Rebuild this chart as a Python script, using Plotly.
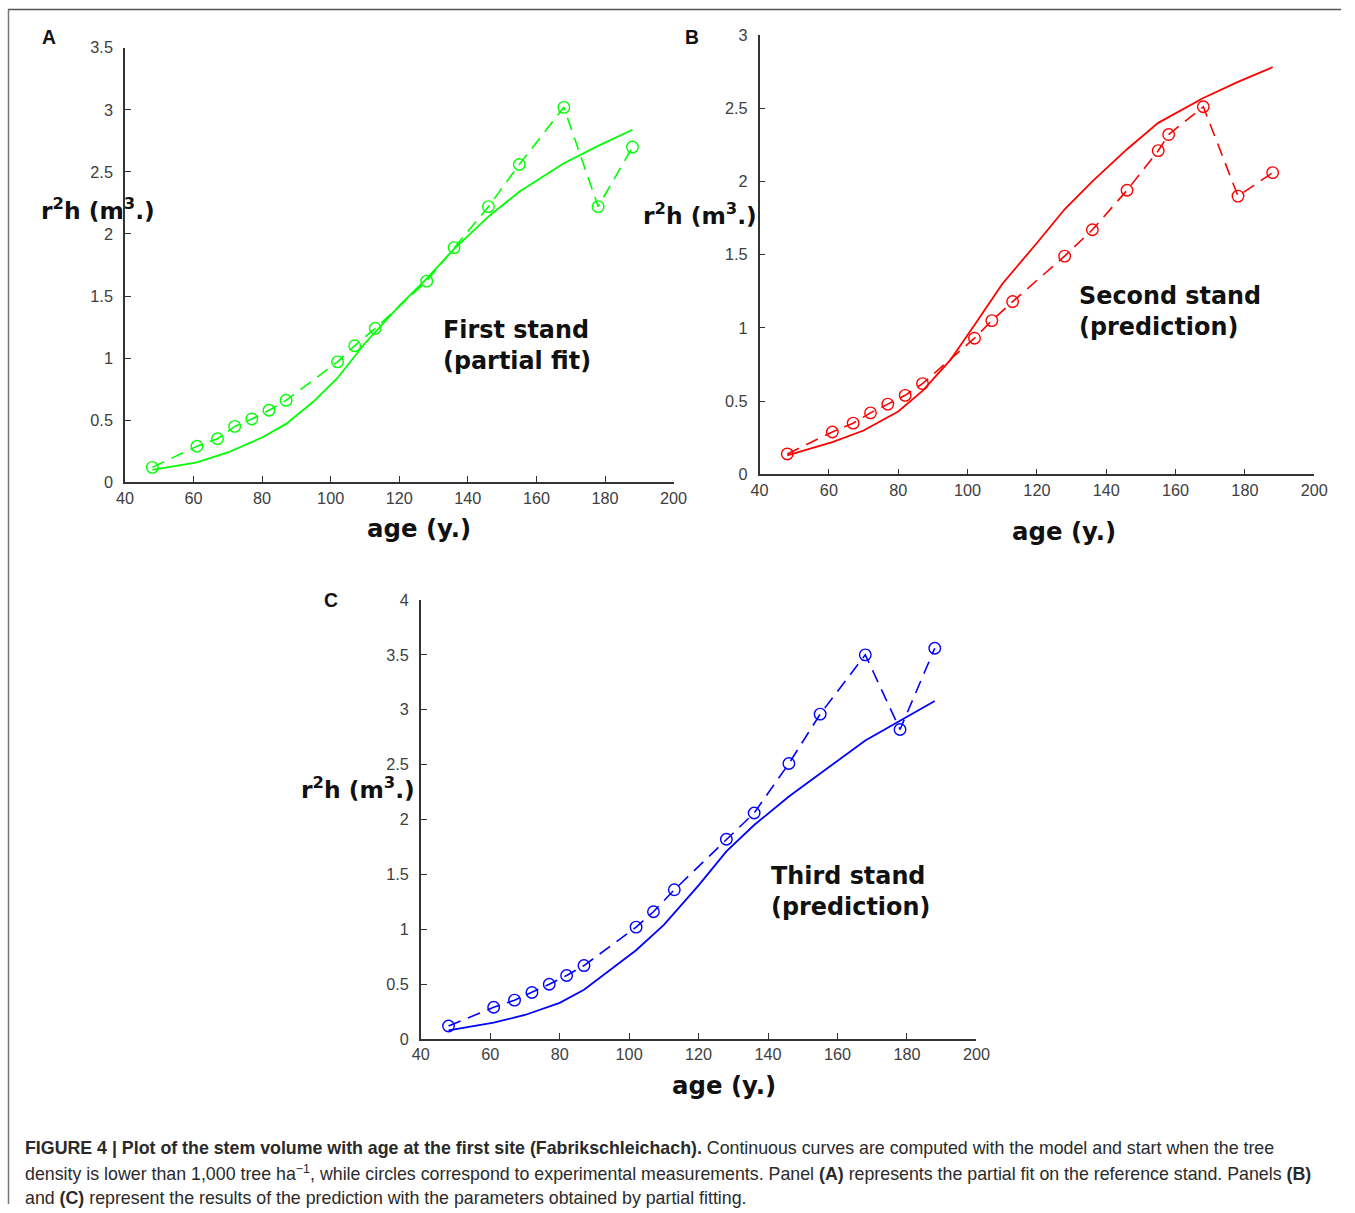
import plotly.graph_objects as go

W, H = 1355, 1213
# observed capture transform: shown = S * page + OFF  -> pre-compensate
S, OFF = 0.9836, 8.0

# ---------------- data ----------------
age_meas_A = [48, 61, 67, 72, 77, 82, 87, 102, 107, 113, 128, 136, 146, 155, 168, 178, 188]
vol_meas_A = [0.12, 0.29, 0.35, 0.45, 0.51, 0.58, 0.66, 0.97, 1.10, 1.24, 1.62, 1.89, 2.22, 2.56, 3.02, 2.22, 2.70]

age_meas_B = [48, 61, 67, 72, 77, 82, 87, 102, 107, 113, 128, 136, 146, 155, 158, 168, 178, 188]
vol_meas_B = [0.14, 0.29, 0.35, 0.42, 0.48, 0.54, 0.62, 0.93, 1.05, 1.18, 1.49, 1.67, 1.94, 2.21, 2.32, 2.51, 1.90, 2.06]

age_meas_C = [48, 61, 67, 72, 77, 82, 87, 102, 107, 113, 128, 136, 146, 155, 168, 178, 188]
vol_meas_C = [0.12, 0.29, 0.355, 0.425, 0.50, 0.58, 0.67, 1.02, 1.16, 1.36, 1.82, 2.06, 2.51, 2.96, 3.50, 2.82, 3.56]

age_model = [48, 55, 61, 70, 80, 87, 95, 102, 110, 120, 128, 136, 146, 155, 168, 178, 188]
vol_model_A = [0.10, 0.13, 0.16, 0.24, 0.36, 0.47, 0.65, 0.84, 1.12, 1.42, 1.64, 1.88, 2.14, 2.34, 2.57, 2.71, 2.84]
vol_model_B = [0.13, 0.18, 0.22, 0.30, 0.43, 0.57, 0.78, 1.02, 1.30, 1.58, 1.81, 2.00, 2.22, 2.40, 2.57, 2.68, 2.78]
vol_model_C = [0.08, 0.12, 0.15, 0.22, 0.33, 0.45, 0.64, 0.81, 1.04, 1.40, 1.71, 1.95, 2.21, 2.42, 2.72, 2.90, 3.08]

x_ticks = [40, 60, 80, 100, 120, 140, 160, 180, 200]
y_ticks_A = [0, 0.5, 1, 1.5, 2, 2.5, 3, 3.5]
y_ticks_B = [0, 0.5, 1, 1.5, 2, 2.5, 3]
y_ticks_C = [0, 0.5, 1, 1.5, 2, 2.5, 3, 3.5, 4]
y_max = [3.5, 3, 4]

panel_titles = ["First stand<br>(partial fit)", "Second stand<br>(prediction)", "Third stand<br>(prediction)"]
panel_letters = ["A", "B", "C"]
colors = ["#00ff00", "#ff0000", "#0000ff"]

# ---------------- layout helpers (target pixel -> paper) ----------------
def px(x):
    return ((x - OFF) / S) / W

def py(y):
    return 1 - ((y - OFF) / S) / H

def fs(size):
    return size / S

# axis boxes in target pixels: (x_left, x_right, y_top, y_bottom)
boxes = [(124, 673, 46.7, 480.5), (759, 1314, 33.9, 472.7), (420, 976, 598, 1036.5)]

fig = go.Figure()

meas = [(age_meas_A, vol_meas_A), (age_meas_B, vol_meas_B), (age_meas_C, vol_meas_C)]
models = [vol_model_A, vol_model_B, vol_model_C]
yticks = [y_ticks_A, y_ticks_B, y_ticks_C]

def fmt(v):
    return str(int(v)) if float(v).is_integer() else str(v)

for i in range(3):
    xa = "x" if i == 0 else f"x{i+1}"
    ya = "y" if i == 0 else f"y{i+1}"
    fig.add_trace(go.Scatter(
        x=age_model, y=models[i], mode="lines", xaxis=xa, yaxis=ya,
        line=dict(color=colors[i], width=1.8), showlegend=False, hoverinfo="skip"))
    fig.add_trace(go.Scatter(
        x=meas[i][0], y=meas[i][1], mode="lines+markers", xaxis=xa, yaxis=ya,
        line=dict(color=colors[i], width=1.6, dash="13px,8px"),
        marker=dict(symbol="circle-open", size=11.5, color=colors[i], line=dict(width=1.4)),
        showlegend=False, hoverinfo="skip"))

    xl, xr, yt, yb = boxes[i]
    axis_common = dict(showline=True, linecolor="#333333", linewidth=1.5, ticks="inside",
                       ticklen=6, tickwidth=1.2, tickcolor="#333333", showgrid=False,
                       zeroline=False,
                       tickfont=dict(family="Liberation Sans, Arial", size=fs(16), color="#404040"))
    xkey = "xaxis" if i == 0 else f"xaxis{i+1}"
    ykey = "yaxis" if i == 0 else f"yaxis{i+1}"
    fig.update_layout(**{
        xkey: dict(domain=[px(xl), px(xr)], range=[40, 200], tickvals=x_ticks,
                   ticktext=[str(t) for t in x_ticks], anchor=ya, ticklabelstandoff=0, **axis_common),
        ykey: dict(domain=[py(yb), py(yt)], range=[0, y_max[i]], tickvals=yticks[i],
                   ticktext=[fmt(t) for t in yticks[i]], anchor=xa, ticklabelstandoff=7, **axis_common),
    })

ann = []
bold_font = "DejaVu Sans"
# stand labels
stand_pos = [(440, 344), (1077, 310), (768, 889)]
for i, (x, y) in enumerate(stand_pos):
    ann.append(dict(x=px(x), y=py(y), xref="paper", yref="paper", xanchor="left", yanchor="middle",
                    text="<b>" + panel_titles[i] + "</b>", align="left", showarrow=False,
                    font=dict(family=bold_font, size=fs(23.5), color="#111111")))
# x titles
xt_pos = [(418, 527), (1064, 530), (723, 1083)]
for x, y in xt_pos:
    ann.append(dict(x=px(x), y=py(y), xref="paper", yref="paper", xanchor="center", yanchor="middle",
                    text="<b>age (y.)</b>", showarrow=False,
                    font=dict(family=bold_font, size=fs(24), color="#111111")))
# y titles
yt_pos = [(38, 208, "<b>r<sup>2</sup>h (m<sup>3</sup>.)</b>"),
          (640, 213, "<b>r<sup>2</sup>h (m<sup>3</sup>.)</b>"),
          (298, 786, "<b>r<sup>2</sup>h (m<sup>3</sup>.)</b>")]
for x, y, t in yt_pos:
    ann.append(dict(x=px(x), y=py(y), xref="paper", yref="paper", xanchor="left", yanchor="middle",
                    text=t, showarrow=False,
                    font=dict(family=bold_font, size=fs(23), color="#111111")))
# panel letters
let_pos = [(39, 36), (682, 36), (321, 599)]
for i, (x, y) in enumerate(let_pos):
    ann.append(dict(x=px(x), y=py(y), xref="paper", yref="paper", xanchor="left", yanchor="middle",
                    text="<b>" + panel_letters[i] + "</b>", showarrow=False,
                    font=dict(family="Liberation Sans, Arial", size=fs(19), color="#111111")))

# caption
cap_lines = [
    "<b>FIGURE 4 | Plot of the stem volume with age at the first site (Fabrikschleichach).</b> "
    "Continuous curves are computed with the model and start when the tree",
    "density is lower than 1,000 tree ha<sup>\u22121</sup>, while circles correspond to experimental "
    "measurements. Panel <b>(A)</b> represents the partial fit on the reference stand. Panels <b>(B)</b>",
    "and <b>(C)</b> represent the results of the prediction with the parameters obtained by partial fitting.",
]
cap_y = [1145, 1170, 1195]
for t, y in zip(cap_lines, cap_y):
    ann.append(dict(x=px(22), y=py(y), xref="paper", yref="paper", xanchor="left", yanchor="middle",
                    text=t, showarrow=False,
                    font=dict(family="Liberation Sans, Arial", size=fs(17.5), color="#2a2a2a")))

fig.update_layout(
    width=W, height=H, margin=dict(l=0, r=0, t=0, b=0),
    paper_bgcolor="white", plot_bgcolor="white",
    annotations=ann, showlegend=False,
    shapes=[
        dict(type="line", xref="paper", yref="paper", x0=px(7), x1=1, y0=py(8.5), y1=py(8.5),
             line=dict(color="#555555", width=1.5)),
        dict(type="line", xref="paper", yref="paper", x0=px(7.5), x1=px(7.5), y0=py(8.5), y1=0,
             line=dict(color="#777777", width=1.5)),
    ],
)

fig.write_html("out.html", config={"displayModeBar": False},
               post_script="document.body.style.margin='0';document.body.style.padding='0';"
                           "document.documentElement.style.overflow='hidden';")
